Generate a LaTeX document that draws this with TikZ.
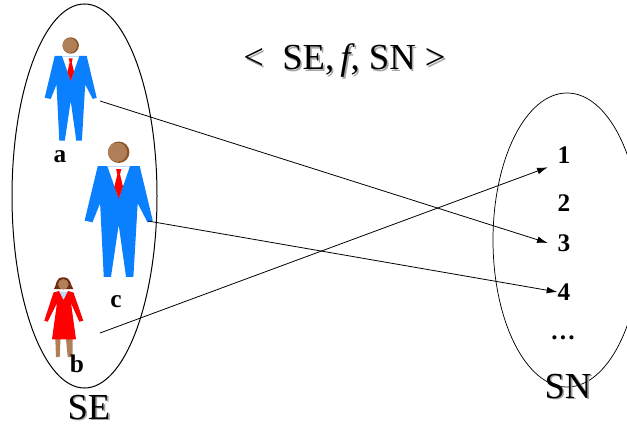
\documentclass[tikz,border=0pt]{standalone}
\usepackage{fontspec}
\setmainfont{Liberation Serif}
\usetikzlibrary{arrows.meta,shapes.geometric}
\definecolor{suitblue}{HTML}{0A80FF}
\definecolor{collarblue}{HTML}{BBDDFF}
\definecolor{skin}{HTML}{B07F57}
\definecolor{skindark}{HTML}{8A5526}
\definecolor{hairbrown}{HTML}{6E2A12}
\newcommand{\softshadow}[1]{\makebox[0pt][l]{\kern1.2pt\raisebox{-1.2pt}{\textcolor{black!35}{#1}}}#1}
\tikzset{
  setoval/.style={draw, ellipse, inner sep=0pt},
  bigtext/.style={font=\fontsize{27.5}{30}\selectfont, anchor=base, inner sep=0pt},
  elemlabel/.style={font=\fontsize{19}{22}\selectfont\bfseries, inner sep=0pt},
  numnode/.style={elemlabel, minimum width=24pt, minimum height=18pt},
  maparrow/.style={-{Latex[length=8pt,width=5pt]}, line width=0.6pt},
  man/.pic={
    \fill[skindark] (0,-10.5) circle[radius=8.2];
    \fill[skin] (-0.9,-10.5) circle[radius=7.3];
    \fill[suitblue] (-16,0) -- (-8.7,0) -- (0,25) -- (8.7,0) -- (16,0) -- (26,41.7) -- (22,43)
      -- (14.5,28.5) -- (11.2,84.7) -- (5.6,84.7) -- (0,45) -- (-5.9,84.7) -- (-11.4,84.7)
      -- (-14.2,28.5) -- (-20,43) -- (-26,41.7) -- cycle;
    \draw[collarblue, line width=0.5pt] (-8.7,0) -- (8.7,0);
    \fill[red] (-2,2.3) -- (2,2.3) -- (1,6.4) -- (3.3,15.8) -- (0,25) -- (-3.3,15.8) -- (-1,6.4) -- cycle;
  },
}
\begin{document}
\begin{tikzpicture}[x=0.75pt, y=-0.75pt]
    \useasboundingbox (0,0) rectangle (627,424);
    \node[setoval, line width=0.75pt, minimum width=108.75pt, minimum height=288pt] (SEoval) at (84.5,196) {};
    \node[setoval, line width=0.55pt, minimum width=111pt, minimum height=220.5pt] (SNoval) at (567,240) {};

    \pic at (70.7,56) {man};
    \pic[scale=1.31] at (118.7,166) {man};

    % woman
    \fill[skin] (55.3,339) -- (60.5,339) -- (59.7,357) -- (56,357) -- cycle;
    \fill[skin] (66,339) -- (72.5,339) -- (72.7,357) -- (67.7,357) -- cycle;
    \fill[hairbrown] (54,289) .. controls (57,285) and (55,277.3) .. (63.3,277.3)
      .. controls (71.5,277.3) and (70,285) .. (73.3,289) -- cycle;
    \fill[skin] (63.3,284.3) circle[radius=5.3];
    \fill[collarblue] (59,291.5) -- (68,291.5) -- (63.5,300) -- cycle;
    \fill[red] (53.5,292.5) -- (59,291) -- (63.5,300) -- (68,291) -- (73.5,292.5) -- (83.3,320.7)
      -- (79.3,321.7) -- (71,303) -- (76,339.3) -- (52,339.3) -- (57,303) -- (47.7,321.7)
      -- (44.3,320.7) -- cycle;

    \node[elemlabel] (la) at (60,157) {a};
    \node[elemlabel] (lc) at (116,302) {c};
    \node[elemlabel] (lb) at (77,364) {b};

    \node[numnode] (n1) at (564,155) {1};
    \node[numnode] (n2) at (564,203) {2};
    \node[numnode] (n3) at (564,243) {3};
    \node[numnode, minimum width=6pt] (n4) at (564,292) {4};
    \node[elemlabel] (ndots) at (563,338) {…};

    \node[bigtext] (title) at (344.5,70) {\softshadow{<\ \ SE,\,\textit{f}, SN >}};
    \node[bigtext] (SElabel) at (89,419) {\softshadow{SE}};
    \node[bigtext] (SNlabel) at (568,398) {\softshadow{SN}};

    \coordinate (ahand) at (100,101);
    \coordinate (chand) at (148,221);
    \coordinate (bhand) at (100,333);
    \draw[maparrow] (ahand) -- (n3.west);
    \draw[maparrow] (chand) -- (n4.west);
    \draw[maparrow] (bhand) -- (n1.south west);
\end{tikzpicture}
\end{document}
